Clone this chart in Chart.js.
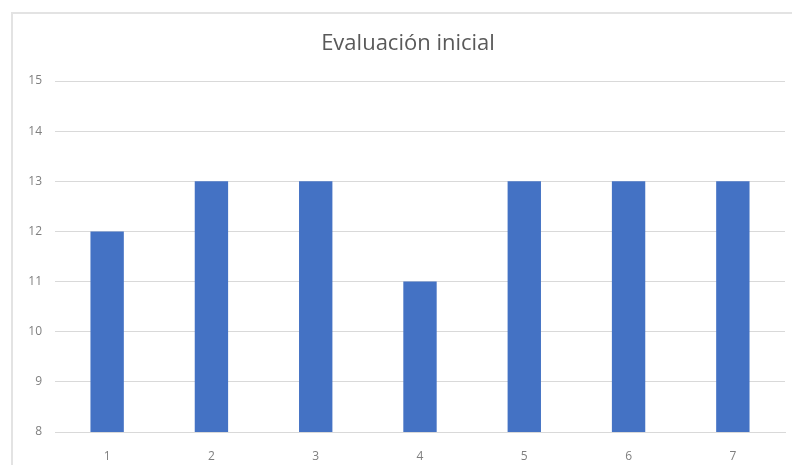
<!DOCTYPE html>
<html>
<head>
<meta charset="utf-8">
<script src="https://cdn.jsdelivr.net/npm/chart.js@4"></script>
<style>
  html, body { margin: 0; padding: 0; background: #ffffff; }
  #frame {
    position: absolute; left: 11px; top: 12px;
    width: 800px; height: 470px;
    border: 2px solid #e3e3e3;
  }
  #wrap { position: absolute; left: 0; top: 0; width: 792px; height: 465px; }
</style>
</head>
<body>
<div id="frame"></div>
<div id="wrap"><canvas id="chart" width="792" height="465"></canvas></div>
<script>
const labels = ['1', '2', '3', '4', '5', '6', '7'];
const scores = [12, 13, 13, 11, 13, 13, 13];
const yMin = 8;
const yMax = 15;

const textColor = '#7f7f7f';
const gridColor = '#d9d9d9';
const fontFamily = 'Open Sans';

// the title sits centred over the whole frame, which runs past the right edge
const titleOffset = {
  id: 'titleOffset',
  afterLayout(chart) {
    chart.titleBlock.left = 31;
    chart.titleBlock.right = 785;
  }
};

const data = {
  labels: labels,
  datasets: [
    {
      label: 'Evaluación inicial',
      data: scores,
      backgroundColor: '#4472C4',
      borderWidth: 0,
      barPercentage: 0.32,
      categoryPercentage: 1
    }
  ]
};

const config = {
  type: 'bar',
  data: data,
  plugins: [titleOffset],
  options: {
    responsive: false,
    animation: false,
    layout: {
      padding: { left: 0, right: 7, top: 0, bottom: 0 }
    },
    plugins: {
      legend: { display: false },
      tooltip: { enabled: false },
      title: {
        display: true,
        text: 'Evaluación inicial',
        color: '#595959',
        font: { family: fontFamily, size: 22, weight: 'normal' },
        padding: { top: 31, bottom: 23.6 }
      }
    },
    scales: {
      x: {
        grid: { display: false },
        border: { display: true, color: gridColor, width: 1 },
        ticks: {
          color: textColor,
          padding: 9,
          font: { family: fontFamily, size: 12 }
        },
        afterFit: function(scale) { scale.height = 33; }
      },
      y: {
        min: yMin,
        max: yMax,
        border: { display: false },
        grid: { color: gridColor, drawTicks: false },
        ticks: {
          stepSize: 1,
          color: textColor,
          padding: 13,
          font: { family: fontFamily, size: 12 }
        },
        afterFit: function(scale) { scale.width = 55; }
      }
    }
  }
};

const chart = new Chart(document.getElementById('chart'), config);
</script>
</body>
</html>
